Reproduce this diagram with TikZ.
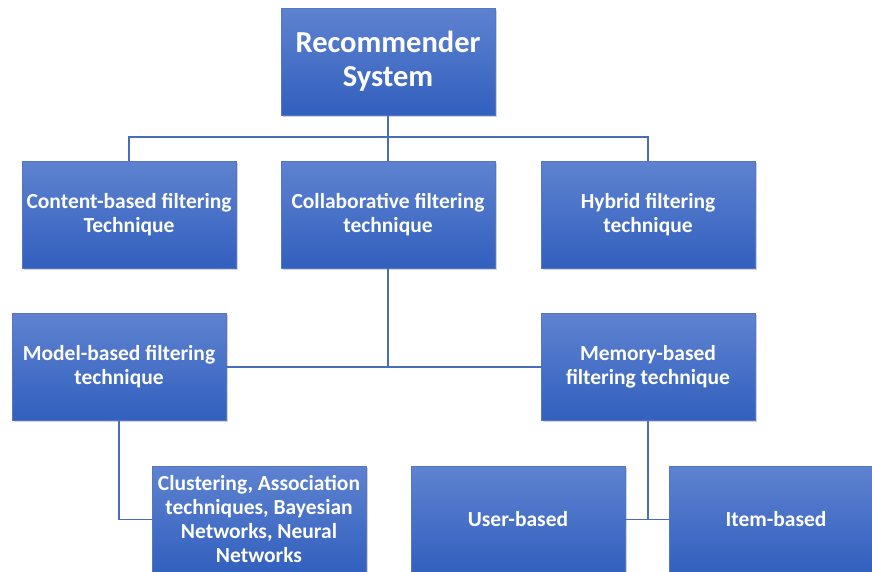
\documentclass[tikz,border=0pt]{standalone}
\usepackage{fontspec}
\setmainfont{Carlito}
\usetikzlibrary{shadows}
\definecolor{boxtop}{RGB}{94,130,208}
\definecolor{boxbot}{RGB}{50,96,190}
\definecolor{boxline}{RGB}{84,118,196}
\definecolor{conn}{RGB}{72,110,186}
\begin{document}
\begin{tikzpicture}[x=1pt,y=-1pt,
  bluebox/.style={rectangle, minimum width=214pt, minimum height=107pt, inner sep=0pt, outer sep=0pt,
    top color=boxtop, bottom color=boxbot, draw=boxline, line width=0.6pt,
    drop shadow={shadow xshift=1.5pt, shadow yshift=-1.8pt, opacity=0.35},
    text=white, align=center, font=\bfseries\fontsize{21.5}{24}\selectfont},
  titlebox/.style={bluebox, font=\bfseries\fontsize{30.5}{34}\selectfont},
  link/.style={draw=conn, line width=1.3pt}]
\useasboundingbox (0,0) rectangle (872,571);
\fill[white] (0,0) rectangle (872,571);
\node[titlebox] (rec) at (388,61.5) {Recommender\\System};
\node[bluebox] (cbf) at (129,214.5) {Content-based filtering\\Technique};
\node[bluebox] (col) at (388,214.5) {Collaborative filtering\\technique};
\node[bluebox] (hyb) at (648,214.5) {Hybrid filtering\\technique};
\node[bluebox] (mod) at (119,367) {Model-based filtering\\technique};
\node[bluebox] (mem) at (648,367) {Memory-based\\filtering technique};
\node[bluebox] (clu) at (259,519.5) {Clustering, Association\\techniques, Bayesian\\Networks, Neural\\Networks};
\node[bluebox] (use) at (518,519.5) {User-based};
\node[bluebox] (ite) at (776,519.5) {Item-based};
\coordinate (j1) at (388,137);
\draw[link] (rec.south) -- (j1);
\draw[link] (j1) -| (cbf.north);
\draw[link] (j1) -| (hyb.north);
\draw[link] (j1) -- (col.north);
\draw[link] (col.south) -- (col.south |- mod.east);
\draw[link] (mod.east) -- (mem.west);
\draw[link] (mod.south) |- (clu.west);
\draw[link] (mem.south) -- (mem.south |- use.east);
\draw[link] (use.east) -- (ite.west);
\end{tikzpicture}
\end{document}
